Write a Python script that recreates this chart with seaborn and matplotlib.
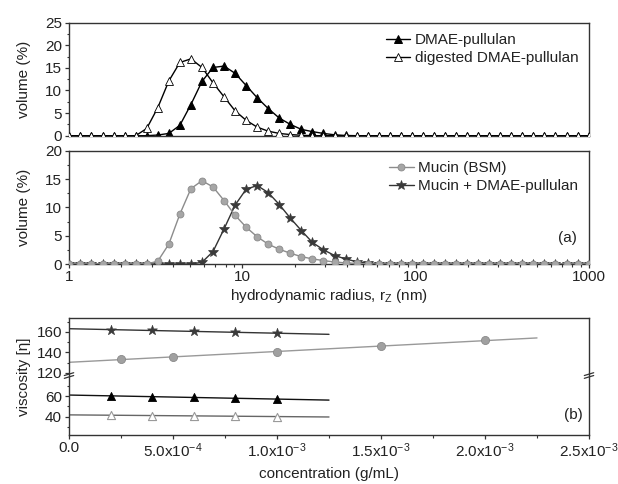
import numpy as np
import pandas as pd
import matplotlib
matplotlib.use('Agg')
import matplotlib.pyplot as plt
import seaborn as sns
from matplotlib.ticker import FixedLocator, NullFormatter, LogLocator

# ---------------- data ----------------
radius = [1.005, 1.164, 1.348, 1.561, 1.808, 2.094, 2.425, 2.808, 3.252, 3.766,
          4.361, 5.051, 5.850, 6.775, 7.846, 9.085, 10.52, 12.18, 14.11, 16.34,
          18.92, 21.91, 25.38, 29.39, 34.03, 39.41, 45.64, 52.86, 61.22, 70.89,
          82.10, 95.08, 110.1, 127.5, 147.7, 171.0, 198.1, 229.4, 265.6, 307.6,
          356.3, 412.6, 477.8, 553.3, 640.8, 742.1, 859.4, 995.3]

vol_pullulan = [0, 0, 0, 0, 0, 0, 0, 0, 0.15, 0.5,
                2.3, 6.9, 12.0, 15.1, 15.4, 13.8, 11.1, 8.4, 6.0, 3.9,
                2.5, 1.4, 0.9, 0.5, 0.2, 0.05, 0, 0, 0, 0,
                0, 0, 0, 0, 0, 0, 0, 0, 0, 0,
                0, 0, 0, 0, 0, 0, 0, 0]
vol_digested = [0, 0, 0, 0, 0, 0, 0, 1.6, 6.2, 12.1,
                16.2, 17.0, 15.1, 11.7, 8.6, 5.5, 3.4, 1.9, 1.0, 0.5,
                0.25, 0.1, 0, 0, 0, 0, 0, 0, 0, 0,
                0, 0, 0, 0, 0, 0, 0, 0, 0, 0,
                0, 0, 0, 0, 0, 0, 0, 0]
vol_mucin = [0, 0, 0, 0, 0, 0, 0, 0, 0.5, 3.5,
             8.8, 13.3, 14.7, 13.6, 11.2, 8.6, 6.5, 4.8, 3.5, 2.6,
             1.9, 1.3, 0.9, 0.6, 0.35, 0.2, 0.1, 0, 0, 0,
             0, 0, 0, 0, 0, 0, 0, 0, 0, 0,
             0, 0, 0, 0, 0, 0, 0, 0]
vol_mix = [0, 0, 0, 0, 0, 0, 0, 0, 0, 0,
           0, 0, 0.3, 2.2, 6.2, 10.4, 13.2, 13.85, 12.6, 10.5,
           8.1, 5.9, 3.8, 2.5, 1.5, 0.9, 0.4, 0.2, 0.05, 0,
           0, 0, 0, 0, 0, 0, 0, 0, 0, 0,
           0, 0, 0, 0, 0, 0, 0, 0]

conc_pull = [2e-4, 4e-4, 6e-4, 8e-4, 1e-3]
visc_mix = [162.0, 161.5, 160.7, 159.7, 158.5]
visc_pull = [60.3, 59.5, 58.7, 58.0, 57.1]
visc_dig = [41.2, 41.0, 41.0, 40.5, 39.8]
conc_bsm = [2.5e-4, 5e-4, 1e-3, 1.5e-3, 2e-3]
visc_bsm = [133.3, 135.4, 140.3, 146.3, 151.6]

xticks_c = [0, 5e-4, 1e-3, 1.5e-3, 2e-3, 2.5e-3]
xticklabels_c = ['0.0', r'5.0x10$^{-4}$', r'1.0x10$^{-3}$', r'1.5x10$^{-3}$',
                 r'2.0x10$^{-3}$', r'2.5x10$^{-3}$']

# ---------------- style ----------------
sns.set_style('ticks')
plt.rcParams['font.family'] = ['Liberation Sans', 'DejaVu Sans']
plt.rcParams.update({
    'mathtext.fontset': 'custom',
    'mathtext.rm': 'Liberation Sans',
    'mathtext.it': 'Liberation Sans:italic',
    'mathtext.bf': 'Liberation Sans:bold',
    'font.size': 11,
    'axes.linewidth': 1.0,
    'axes.edgecolor': '#333333',
    'text.color': '#222222',
    'axes.labelcolor': '#222222',
    'xtick.color': '#333333',
    'ytick.color': '#333333',
    'xtick.labelcolor': '#222222',
    'ytick.labelcolor': '#222222',
    'xtick.major.size': 3.0,
    'ytick.major.size': 3.0,
    'xtick.minor.size': 1.8,
    'ytick.minor.size': 1.8,
    'xtick.major.width': 0.9,
    'ytick.major.width': 0.9,
    'xtick.minor.width': 0.8,
    'ytick.minor.width': 0.8,
    'xtick.major.pad': 1.5,
    'ytick.major.pad': 2.0,
    'xtick.labelsize': 11,
    'ytick.labelsize': 11,
})

fig = plt.figure(figsize=(6.18, 4.84), dpi=100)
L, W = 69 / 618, 520 / 618
ax1 = fig.add_axes([L, 1 - 135.7 / 484, W, 113.0 / 484])
ax2 = fig.add_axes([L, 1 - 264.0 / 484, W, 113.3 / 484])
ax3 = fig.add_axes([L, 1 - 435.0 / 484, W, 117.0 / 484])

leg_kw = dict(loc='upper right', frameon=False, fontsize=11, handlelength=1.6,
              handletextpad=0.3, borderaxespad=0.3, labelspacing=0.25)

# ---------------- panel 1 ----------------
df1 = pd.DataFrame({'r': radius, 'pull': vol_pullulan, 'dig': vol_digested})
sns.lineplot(data=df1, x='r', y='pull', ax=ax1, color='black', lw=1.0,
             marker='^', ms=5.3, mfc='black', mec='black', mew=0.7,
             label='DMAE-pullulan', zorder=2)
sns.lineplot(data=df1, x='r', y='dig', ax=ax1, color='black', lw=1.0,
             marker='^', ms=5.3, mfc='white', mec='black', mew=0.6,
             label='digested DMAE-pullulan', zorder=3)
ax1.set_xscale('log')
ax1.set_xlim(1, 1000)
ax1.set_ylim(0, 25)
ax1.set_yticks([0, 5, 10, 15, 20, 25])
ax1.yaxis.set_minor_locator(FixedLocator(np.arange(2.5, 25, 5)))
ax1.tick_params(axis='x', which='both', bottom=False, labelbottom=False)
ax1.set_xlabel('')
ax1.set_ylabel('volume (%)', fontsize=11)
ax1.yaxis.set_label_coords(-0.074, 0.5)
ax1.legend(**leg_kw)

# ---------------- panel 2 ----------------
df2 = pd.DataFrame({'r': radius, 'bsm': vol_mucin, 'mix': vol_mix})
sns.lineplot(data=df2, x='r', y='bsm', ax=ax2, color='#8c8c8c', lw=1.0,
             marker='o', ms=5.0, mfc='#a6a6a6', mec='#8a8a8a', mew=0.6,
             label='Mucin (BSM)', zorder=3)
sns.lineplot(data=df2, x='r', y='mix', ax=ax2, color='#333333', lw=1.0,
             marker='*', ms=7, mfc='#3a3a3a', mec='#3a3a3a', mew=0.5,
             label='Mucin + DMAE-pullulan', zorder=2)
ax2.set_xscale('log')
ax2.set_xlim(1, 1000)
ax2.set_ylim(0, 20)
ax2.set_xticks([1, 10, 100, 1000])
ax2.set_xticklabels(['1', '10', '100', '1000'])
ax2.xaxis.set_minor_locator(LogLocator(base=10, subs=np.arange(2, 10)))
ax2.xaxis.set_minor_formatter(NullFormatter())
ax2.set_yticks([0, 5, 10, 15, 20])
ax2.yaxis.set_minor_locator(FixedLocator(np.arange(2.5, 20, 5)))
ax2.set_xlabel(r'hydrodynamic radius, r$_{\mathrm{Z}}$ (nm)', fontsize=11)
ax2.xaxis.set_label_coords(0.5, -0.205)
ax2.set_ylabel('volume (%)', fontsize=11)
ax2.yaxis.set_label_coords(-0.074, 0.5)
ax2.legend(**leg_kw)
ax2.text(0.976, 0.227, '(a)', transform=ax2.transAxes, ha='right', va='center',
         fontsize=11)

# ---------------- panel 3 (broken y axis) ----------------
BLO, BHI, SQ = 80.0, 117.5, 0.01
GAP = BHI - BLO


def fwd(y):
    y = np.asarray(y, dtype=float)
    return np.where(y <= BLO, y,
                    np.where(y >= BHI, BLO + GAP * SQ + (y - BHI),
                             BLO + (y - BLO) * SQ))


def inv(t):
    t = np.asarray(t, dtype=float)
    top = BLO + GAP * SQ
    return np.where(t <= BLO, t,
                    np.where(t >= top, BHI + (t - top),
                             BLO + (t - BLO) / SQ))


ax3.set_yscale('function', functions=(fwd, inv))


def fit_line(x, y, xend, color):
    k, b = np.polyfit(x, y, 1)
    xs = np.array([0.0, xend])
    sns.lineplot(x=xs, y=k * xs + b, ax=ax3, color=color, lw=1.0, zorder=2)


fit_line(conc_pull, visc_mix, 1.25e-3, '#333333')
fit_line(conc_bsm, visc_bsm, 2.25e-3, '#999999')
fit_line(conc_pull, visc_pull, 1.25e-3, '#111111')
fit_line(conc_pull, visc_dig, 1.25e-3, '#666666')

sns.scatterplot(x=conc_pull, y=visc_mix, ax=ax3, marker='*', s=55,
                color='#3a3a3a', edgecolor='#3a3a3a', linewidth=0.5, zorder=3)
sns.scatterplot(x=conc_bsm, y=visc_bsm, ax=ax3, marker='o', s=34,
                color='#a0a0a0', edgecolor='#8a8a8a', linewidth=0.6, zorder=3)
sns.scatterplot(x=conc_pull, y=visc_pull, ax=ax3, marker='^', s=34,
                color='black', edgecolor='black', linewidth=0.6, zorder=3)
sns.scatterplot(x=conc_pull, y=visc_dig, ax=ax3, marker='^', s=34,
                color='white', edgecolor='#9a9a9a', linewidth=0.8, zorder=3)

YLO, YHI = 22.0, 173.6
ax3.set_ylim(YLO, YHI)
ax3.set_xlim(0, 2.5e-3)
ax3.set_yticks([40, 60, 120, 140, 160])
ax3.set_yticklabels(['40', '60', '120', '140', '160'])
ax3.yaxis.set_minor_locator(FixedLocator([30, 50, 70, 130, 150, 170]))
ax3.yaxis.set_minor_formatter(NullFormatter())
ax3.set_xticks(xticks_c)
ax3.set_xticklabels(xticklabels_c)
ax3.xaxis.set_minor_locator(FixedLocator(np.arange(2.5e-4, 2.5e-3, 5e-4)))
ax3.set_xlabel('concentration (g/mL)', fontsize=11)
ax3.xaxis.set_label_coords(0.5, -0.27)
ax3.set_ylabel('viscosity [\u03b7]', fontsize=11)
ax3.yaxis.set_label_coords(-0.074, 0.5)
ax3.text(0.988, 0.171, '(b)', transform=ax3.transAxes, ha='right', va='center',
         fontsize=11)

# break marks on both spines
yb = float((fwd(BLO + GAP / 2) - fwd(YLO)) / (fwd(YHI) - fwd(YLO)))
for xs in (0.0, 1.0):
    for off in (-0.012, 0.012):
        ax3.plot([xs - 0.009, xs + 0.009], [yb - 0.012 + off, yb + 0.012 + off],
                 transform=ax3.transAxes, color='#333333', lw=0.9,
                 clip_on=False, zorder=5)

fig.savefig('out.png', dpi=100)
